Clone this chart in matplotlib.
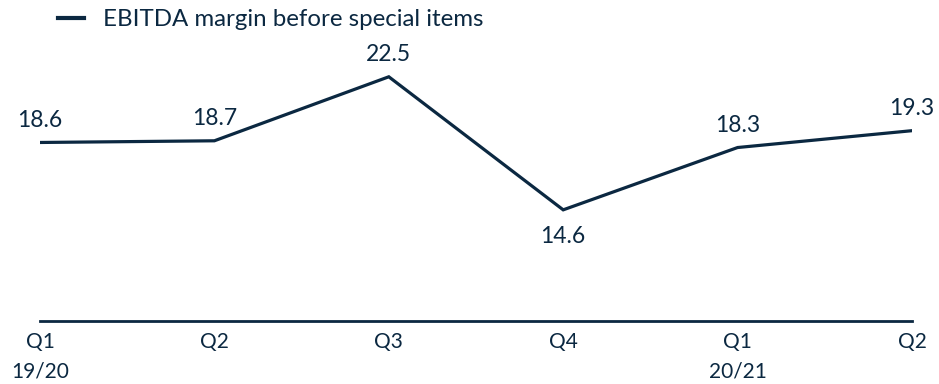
import matplotlib

matplotlib.use("Agg")
import matplotlib.pyplot as plt
from matplotlib.lines import Line2D

NAVY = "#0B2841"

quarters = ["Q1\n19/20", "Q2", "Q3", "Q4", "Q1\n20/21", "Q2"]
ebitda_margin = [18.6, 18.7, 22.5, 14.6, 18.3, 19.3]
label_below = [False, False, False, True, False, False]

plt.rcParams["font.family"] = ["Lato", "DejaVu Sans"]

fig = plt.figure(figsize=(9.39, 3.84), dpi=100)
ax = fig.add_axes([40 / 939, 63 / 384, 872 / 939, 320 / 384])

x = list(range(len(quarters)))
ax.plot(x, ebitda_margin, color=NAVY, linewidth=2.3, solid_joinstyle="miter")

for xi, val, below in zip(x, ebitda_margin, label_below):
    ax.annotate(
        f"{val:.1f}",
        (xi, val),
        xytext=(0, -27 if below else 22),
        textcoords="offset pixels",
        ha="center",
        va="center",
        fontsize=16.5,
        color=NAVY,
    )

ax.set_xlim(0, 5)
ax.set_ylim(8, 27)
ax.set_yticks([])
ax.set_xticks(x)
ax.set_xticklabels(quarters, fontsize=15, color=NAVY, linespacing=1.6)
ax.tick_params(axis="x", length=0, pad=8)
for side in ["top", "right", "left"]:
    ax.spines[side].set_visible(False)
ax.spines["bottom"].set_color(NAVY)
ax.spines["bottom"].set_linewidth(2.0)
ax.patch.set_alpha(0)

handle = Line2D([], [], color=NAVY, linewidth=3)
fig.legend(
    [handle],
    ["EBITDA margin before special items"],
    loc="center left",
    bbox_to_anchor=(36 / 939, 1 - 20 / 384),
    frameon=False,
    fontsize=17.3,
    handlelength=1.1,
    handletextpad=0.8,
    labelcolor=NAVY,
)

fig.savefig("out.png", dpi=100)
